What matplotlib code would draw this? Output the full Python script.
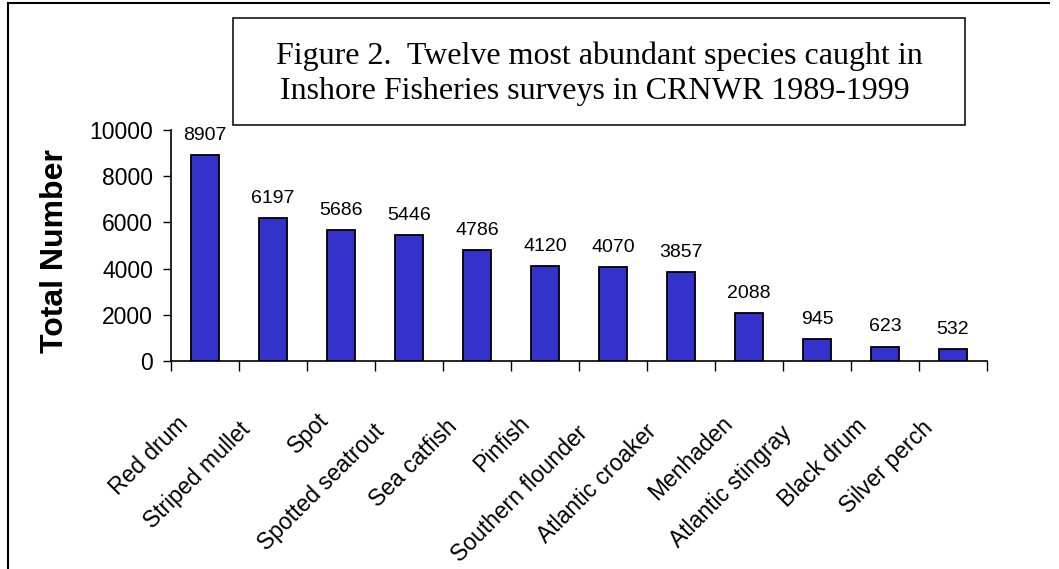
import matplotlib
matplotlib.use("Agg")
import matplotlib.pyplot as plt
from matplotlib.patches import Rectangle
from matplotlib.lines import Line2D
from matplotlib.transforms import ScaledTranslation

species = ["Red drum", "Striped mullet", "Spot", "Spotted seatrout", "Sea catfish",
           "Pinfish", "Southern flounder", "Atlantic croaker", "Menhaden",
           "Atlantic stingray", "Black drum", "Silver perch"]
totals = [8907, 6197, 5686, 5446, 4786, 4120, 4070, 3857, 2088, 945, 623, 532]
yticks = [0, 2000, 4000, 6000, 8000, 10000]
title_lines = ["Figure 2.  Twelve most abundant species caught in",
               "Inshore Fisheries surveys in CRNWR 1989-1999"]
ylabel = "Total Number"

W, H = 1059, 569
fig = plt.figure(figsize=(W / 100, H / 100), dpi=100)
fig.patch.set_facecolor("white")

def fx(px):
    return px / W

def fy(py):
    return 1 - py / H

SANS = "Liberation Sans"
SERIF = "Liberation Serif"

ax = fig.add_axes([fx(171), fy(361), fx(987) - fx(171), fy(130) - fy(361)])
n = len(species)
xs = list(range(n))
ax.bar(xs, totals, width=0.42, color="#3333CC", edgecolor="black", linewidth=1.3, zorder=3)
ax.set_xlim(-0.5, n - 0.5)
ax.set_ylim(0, 10000)

for spine in ["top", "right"]:
    ax.spines[spine].set_visible(False)
for spine in ["left", "bottom"]:
    ax.spines[spine].set_linewidth(1.2)
    ax.spines[spine].set_color("black")

ax.set_yticks(yticks)
ax.set_yticklabels([str(v) for v in yticks], fontfamily=SANS, fontsize=16.5)
ax.tick_params(axis="y", direction="out", length=6, width=1.0, pad=7)

ax.set_xticks(xs)
ax.set_xticklabels(species, rotation=45, ha="right", va="center", rotation_mode="anchor",
                   fontfamily=SANS, fontsize=16.5)
ax.set_xticks([i - 0.5 for i in range(n + 1)], minor=True)
ax.tick_params(axis="x", which="major", length=0, pad=42)
ax.tick_params(axis="x", which="minor", direction="out", length=7, width=1.0)
for lab in ax.get_xticklabels():
    nc = len(lab.get_text())
    dxp = -12 - 1.0 * nc
    dyp = 7 - 1.0 * nc
    lab.set_transform(lab.get_transform() +
                      ScaledTranslation(dxp / 100, dyp / 100, fig.dpi_scale_trans))

for x, v in zip(xs, totals):
    ax.annotate(str(v), (x, v), xytext=(0, 8), textcoords="offset points",
                ha="center", va="bottom", fontfamily=SANS, fontsize=14)

fig.text(fx(55), fy(251), ylabel, rotation=90, ha="center", va="center",
         fontfamily=SANS, fontweight="bold", fontsize=23)

# title box
fig.patches.append(Rectangle((fx(233), fy(125)), fx(965) - fx(233), fy(18) - fy(125),
                             transform=fig.transFigure, fill=False, edgecolor="black",
                             linewidth=1.1))
fig.text(fx(599), fy(64), title_lines[0], ha="center", va="baseline",
         fontfamily=SERIF, fontsize=23)
fig.text(fx(595), fy(99), title_lines[1], ha="center", va="baseline",
         fontfamily=SERIF, fontsize=23)

# outer frame lines (top and left)
fig.lines.append(Line2D([fx(8), fx(1049)], [fy(3), fy(3)], transform=fig.transFigure,
                        color="black", linewidth=1.5))
fig.lines.append(Line2D([fx(8), fx(8)], [fy(3), fy(569)], transform=fig.transFigure,
                        color="black", linewidth=1.5))

fig.savefig("out.png", dpi=100, facecolor="white")
